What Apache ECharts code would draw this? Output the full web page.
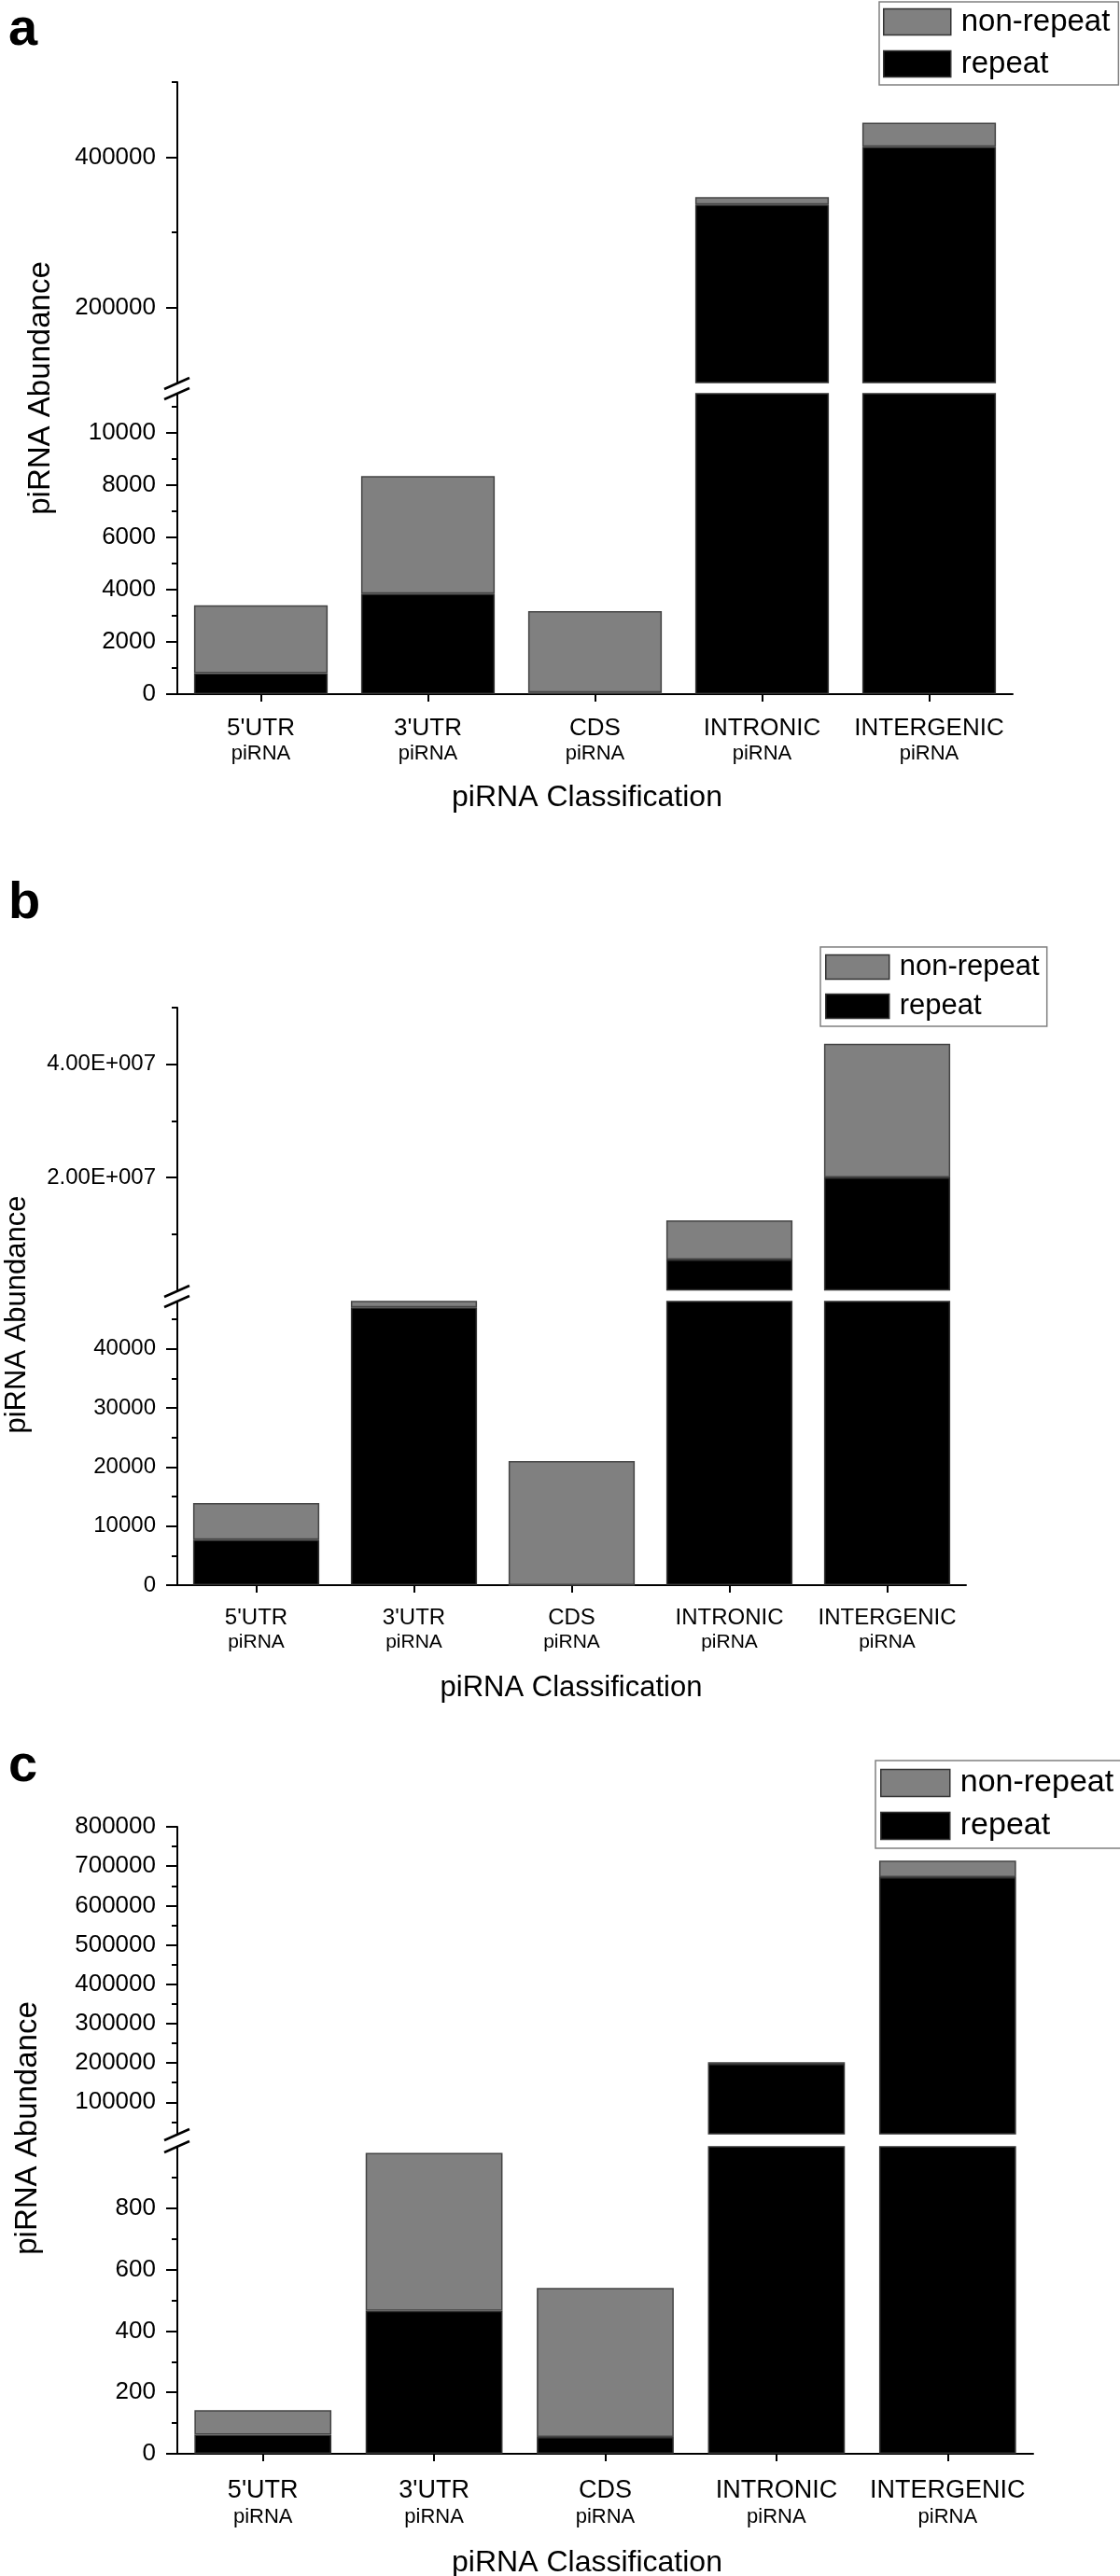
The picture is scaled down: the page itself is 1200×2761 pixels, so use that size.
<!DOCTYPE html>
<html><head><meta charset="utf-8">
<script src="https://cdn.jsdelivr.net/npm/echarts@6/dist/echarts.min.js"></script>
<style>html,body{margin:0;padding:0;background:#fff}#c{width:1200px;height:2761px}</style>
</head><body><div id="c"></div>
<script>
// ---------------- data ----------------
const categories = ["5'UTR", "3'UTR", "CDS", "INTRONIC", "INTERGENIC"];
const categorySubLabel = 'piRNA';
const legendNames = ['non-repeat', 'repeat'];
const xTitle = 'piRNA Classification';
const yTitle = 'piRNA Abundance';
const panelLetters = ['a', 'b', 'c'];

// panel a
const repeatA    = [800, 3850, 60, 337000, 414000];
const nonRepeatA = [2600, 4500, 3120, 10000, 32000];
// panel b
const repeatB    = [7700, 47000, 0, 5500000, 20000000];
const nonRepeatB = [6200, 1500, 21000, 6900000, 23600000];
// panel c
const repeatC    = [62, 466, 55, 198000, 672000];
const nonRepeatC = [80, 514, 485, 4000, 42000];

// axis ranges (broken axes: upper / lower segment)
const rangeAUpper = [100000, 500000];
const rangeALower = [0, 11500];
const rangeBUpper = [48000, 50000000];
const rangeBLower = [0, 48000];
const rangeCUpper = [20000, 800000];
const rangeCLower = [0, 1000];

// tick values
const ticksAUpperMajor = [200000, 400000];
const ticksAUpperMinor = [300000, 500000];
const ticksALowerMajor = [0, 2000, 4000, 6000, 8000, 10000];
const ticksALowerMinor = [1000, 3000, 5000, 7000, 9000, 11000];
const ticksBUpperMajor = [20000000, 40000000];
const ticksBUpperMinor = [10000000, 30000000, 50000000];
const ticksBLowerMajor = [0, 10000, 20000, 30000, 40000];
const ticksBLowerMinor = [5000, 15000, 25000, 35000, 45000];
const ticksCUpperMajor = [100000, 200000, 300000, 400000, 500000, 600000, 700000, 800000];
const ticksCUpperMinor = [50000, 150000, 250000, 350000, 450000, 550000, 650000, 750000];
const ticksCLowerMajor = [0, 200, 400, 600, 800];
const ticksCLowerMinor = [100, 300, 500, 700, 900];

// ---------------- styling / layout ----------------
const FONT = "'Liberation Sans', Arial, Helvetica, sans-serif";
const COLOR_REPEAT = '#000000';
const COLOR_NONREPEAT = '#808080';
const plainFmt = v => String(v);
const sciFmt = v => {
  if (v === 0) return '0';
  const e = Math.floor(Math.log10(v));
  const m = v / Math.pow(10, e);
  return m.toFixed(2) + 'E+' + String(e).padStart(3, '0');
};

const panels = [
  { letter: panelLetters[0], repeat: repeatA, nonRepeat: nonRepeatA,
    upper: { range: rangeAUpper, major: ticksAUpperMajor, minor: ticksAUpperMinor, fmt: plainFmt },
    lower: { range: rangeALower, major: ticksALowerMajor, minor: ticksALowerMinor, fmt: plainFmt },
    L: { left: 190, right: 1085, upTop: 88, upBottom: 410, loTop: 422, loBottom: 744,
         tickFont: 26, catFont: 26, subFont: 22, catMargin: 22,
         legend: { left: 942, top: 2, w: 72, h: 28, gap: 12, font: 33, pad: [5, 9, 6, 4] },
         yTitle: { x: 44, y: 416, font: 33 }, xTitle: { x: 629, y: 839, font: 32 },
         letter: { x: 9, y: 33, font: 56 } } },
  { letter: panelLetters[1], repeat: repeatB, nonRepeat: nonRepeatB,
    upper: { range: rangeBUpper, major: ticksBUpperMajor, minor: ticksBUpperMinor, fmt: sciFmt },
    lower: { range: rangeBLower, major: ticksBLowerMajor, minor: ticksBLowerMinor, fmt: plainFmt },
    L: { left: 190, right: 1035, upTop: 1080, upBottom: 1383, loTop: 1395, loBottom: 1699,
         tickFont: 24, catFont: 24, subFont: 21, catMargin: 22,
         legend: { left: 879, top: 1015, w: 68, h: 26, gap: 11, font: 31, pad: [6, 8, 6, 5] },
         yTitle: { x: 18, y: 1409, font: 31 }, xTitle: { x: 612, y: 1794, font: 31 },
         letter: { x: 9, y: 969, font: 56 } } },
  { letter: panelLetters[2], repeat: repeatC, nonRepeat: nonRepeatC,
    upper: { range: rangeCUpper, major: ticksCUpperMajor, minor: ticksCUpperMinor, fmt: plainFmt },
    lower: { range: rangeCLower, major: ticksCLowerMajor, minor: ticksCLowerMinor, fmt: plainFmt },
    L: { left: 190, right: 1107, upTop: 1958, upBottom: 2287, loTop: 2301, loBottom: 2630,
         tickFont: 26, catFont: 27, subFont: 22, catMargin: 25,
         legend: { left: 938, top: 1887, w: 74, h: 29, gap: 12, font: 34, pad: [7, 8, 7, 5] },
         yTitle: { x: 30, y: 2281, font: 33 }, xTitle: { x: 629, y: 2731, font: 32 },
         letter: { x: 9, y: 1894, font: 56 } } }
];

const grids = [], xAxes = [], yAxes = [], series = [], legends = [], graphics = [];
const axisLineStyle = { color: '#000', width: 2 };

panels.forEach((p, pi) => {
  const L = p.L;
  ['upper', 'lower'].forEach(seg => {
    const s = p[seg];
    const gi = grids.length;
    const top = seg === 'upper' ? L.upTop : L.loTop;
    const bottom = seg === 'upper' ? L.upBottom : L.loBottom;
    grids.push({ left: L.left, top: top, width: L.right - L.left, height: bottom - top,
                 containLabel: false, outerBoundsMode: 'none' });
    if (seg === 'upper') {
      xAxes.push({ type: 'category', gridIndex: gi, data: categories, show: false });
    } else {
      xAxes.push({
        type: 'category', gridIndex: gi, data: categories, position: 'bottom',
        axisLine: { show: true, onZero: false, lineStyle: axisLineStyle },
        axisTick: { show: true, alignWithLabel: true, length: 8, inside: false, lineStyle: { color: '#000', width: 2 } },
        axisLabel: {
          interval: 0, margin: L.catMargin,
          formatter: v => `{a|${v}}\n{b|${categorySubLabel}}`,
          rich: {
            a: { fontSize: L.catFont, fontFamily: FONT, color: '#000', lineHeight: L.catFont + 3 },
            b: { fontSize: L.subFont, fontFamily: FONT, color: '#000', lineHeight: L.subFont + 3 }
          }
        },
        splitLine: { show: false }
      });
    }
    const mainIdx = yAxes.length;
    yAxes.push({
      type: 'value', gridIndex: gi, position: 'left', min: s.range[0], max: s.range[1],
      axisLine: { show: true, onZero: false, lineStyle: axisLineStyle },
      axisTick: { show: true, length: 12, customValues: s.major, lineStyle: { color: '#000', width: 2 } },
      axisLabel: { show: true, customValues: s.major, formatter: s.fmt, margin: 23,
                   fontSize: L.tickFont, fontFamily: FONT, color: '#000' },
      splitLine: { show: false }
    });
    yAxes.push({
      type: 'value', gridIndex: gi, position: 'left', min: s.range[0], max: s.range[1],
      axisLine: { show: false },
      axisTick: { show: true, length: 6, customValues: s.minor, lineStyle: { color: '#000', width: 2 } },
      axisLabel: { show: false },
      splitLine: { show: false }
    });
    const common = { type: 'bar', xAxisIndex: gi, yAxisIndex: mainIdx, stack: 'st' + gi,
                     barWidth: '80%', clip: true, silent: true };
    series.push(Object.assign({}, common, { name: legendNames[1], data: p.repeat,
      itemStyle: { color: COLOR_REPEAT, borderColor: '#333', borderWidth: 1.5 } }));
    series.push(Object.assign({}, common, { name: legendNames[0], data: p.nonRepeat,
      itemStyle: { color: COLOR_NONREPEAT, borderColor: '#444', borderWidth: 1.5 } }));
  });

  const lg = L.legend;
  legends.push({
    data: legendNames, orient: 'vertical', left: lg.left, top: lg.top, icon: 'rect',
    itemWidth: lg.w, itemHeight: lg.h, itemGap: lg.gap, padding: lg.pad,
    borderColor: '#808080', borderWidth: 1.5, backgroundColor: '#fff', selectedMode: false,
    itemStyle: { borderColor: '#333', borderWidth: 1.5 },
    textStyle: { fontSize: lg.font, fontFamily: FONT, color: '#000', lineHeight: lg.h, padding: [0, 0, 0, 6] }
  });

  graphics.push({ type: 'text', x: L.letter.x, y: L.letter.y, silent: true,
    style: { text: p.letter, font: `bold ${L.letter.font}px ${FONT}`, fill: '#000',
             textAlign: 'left', textVerticalAlign: 'middle' } });
  graphics.push({ type: 'text', x: L.yTitle.x, y: L.yTitle.y, rotation: Math.PI / 2, silent: true,
    style: { text: yTitle, font: `${L.yTitle.font}px ${FONT}`, fill: '#000',
             textAlign: 'center', textVerticalAlign: 'middle' } });
  graphics.push({ type: 'text', x: L.xTitle.x, y: L.xTitle.y, silent: true,
    style: { text: xTitle, font: `${L.xTitle.font}px ${FONT}`, fill: '#000',
             textAlign: 'center', textVerticalAlign: 'top' } });
  [L.upBottom + 1, L.loTop].forEach(y => {
    graphics.push({ type: 'line', silent: true,
      shape: { x1: L.left - 14, y1: y + 6, x2: L.left + 13, y2: y - 6 },
      style: { stroke: '#000', lineWidth: 2.5 } });
  });
});

const chart = echarts.init(document.getElementById('c'), null, { renderer: 'canvas', width: 1200, height: 2761 });
chart.setOption({
  animation: false,
  backgroundColor: '#ffffff',
  grid: grids, xAxis: xAxes, yAxis: yAxes, series: series,
  legend: legends, graphic: graphics
});
</script>
</body></html>
